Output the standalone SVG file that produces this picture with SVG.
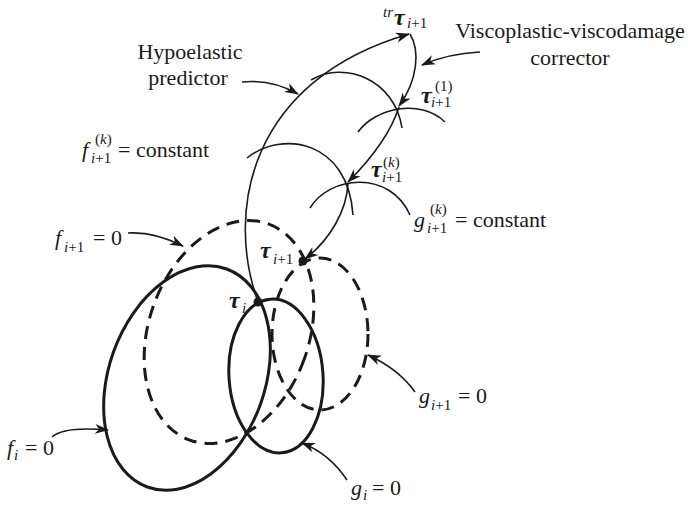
<svg xmlns="http://www.w3.org/2000/svg" width="688" height="507" viewBox="0 0 688 507">
<style>
.bg{fill:#fff}
.thin{fill:none;stroke:#1a1a1a;stroke-width:1.6}
.thick{fill:none;stroke:#1a1a1a;stroke-width:3}
.dash{fill:none;stroke:#1a1a1a;stroke-width:3;stroke-dasharray:13 8}
.lbl{fill:#1a1a1a;font-size:22px}
.it{font-style:italic}
.tau{font-style:italic;font-weight:bold;font-size:24px}
.sub{font-size:15px}
.dot{fill:#1a1a1a}
</style>
<defs>
<marker id="ah" markerUnits="userSpaceOnUse" markerWidth="14" markerHeight="10" refX="13" refY="5" orient="auto" overflow="visible">
<path d="M0,0 L14,5 L0,10 L4,5 z" fill="#1a1a1a"/>
</marker>
</defs>
<rect class="bg" width="688" height="507"/>
<g id="surfaces">
<ellipse id="f_i" class="thick" cx="187" cy="378" rx="78" ry="116" transform="rotate(20 187 378)"/>
<ellipse id="f_i1" class="dash" cx="229" cy="332" rx="80" ry="115" transform="rotate(20 229 332)"/>
<ellipse id="g_i" class="thick" cx="276" cy="376" rx="47" ry="77" transform="rotate(-4 276 376)"/>
<ellipse id="g_i1" class="dash" cx="320" cy="334" rx="48" ry="76"/>
</g>
<g id="level-arcs">
<path class="thin" d="M311,80 C345,60 395,80 402,128"/>
<path class="thin" d="M358,132 C375,108 420,98 445,122"/>
<path class="thin" d="M247,158 C282,130 348,140 353,215"/>
<path class="thin" d="M310,208 C330,175 390,170 410,215"/>
</g>
<g id="connectors">
<path class="thin" d="M258,302 C225,210 250,80 409,34" marker-end="url(#ah)"/>
<path class="thin" d="M410,34 C420,50 418,80 399,106" marker-end="url(#ah)"/>
<path class="thin" d="M399,107 C390,135 370,160 348,182" marker-end="url(#ah)"/>
<path class="thin" d="M348,183 C347,210 330,240 305,259" marker-end="url(#ah)"/>
<path class="thin" d="M242,82 C262,80 282,85 298,94" marker-end="url(#ah)"/>
<path class="thin" d="M480,52 C460,53 440,57 422,65" marker-end="url(#ah)"/>
<path class="thin" d="M128,233 C145,232 165,237 183,246" marker-end="url(#ah)"/>
<path class="thin" d="M52,437 C62,428 85,428 108,430" marker-end="url(#ah)"/>
<path class="thin" d="M347,480 C335,462 320,450 302,443" marker-end="url(#ah)"/>
<path class="thin" d="M415,392 C405,378 390,365 368,355" marker-end="url(#ah)"/>
</g>
<g id="points">
<circle id="tau_i" class="dot" cx="258" cy="302" r="4.5"/>
<circle id="tau_i1" class="dot" cx="303" cy="261" r="4.5"/>
</g>
<g id="labels" font-family="'Liberation Serif', 'Times New Roman', serif">
<text class="lbl" x="190" y="59" text-anchor="middle">Hypoelastic</text>
<text class="lbl" x="188" y="85" text-anchor="middle">predictor</text>
<text class="lbl" x="570" y="38" text-anchor="middle">Viscoplastic-viscodamage</text>
<text class="lbl" x="570" y="65" text-anchor="middle">corrector</text>

<text class="lbl sub it" x="383" y="17">tr</text>
<text class="lbl tau" x="394" y="25">τ</text>
<text class="lbl sub" x="407" y="28"><tspan class="it">i</tspan>+1</text>

<text class="lbl tau" x="421" y="103">τ</text>
<text class="lbl sub" x="435" y="91">(1)</text>
<text class="lbl sub" x="431" y="107"><tspan class="it">i</tspan>+1</text>

<text class="lbl tau" x="371" y="177">τ</text>
<text class="lbl sub" x="383" y="167">(<tspan class="it">k</tspan>)</text>
<text class="lbl sub" x="382" y="182"><tspan class="it">i</tspan>+1</text>

<text class="lbl tau" x="260" y="258">τ</text>
<text class="lbl sub" x="273" y="264"><tspan class="it">i</tspan>+1</text>

<text class="lbl tau" x="229" y="308">τ</text>
<text class="lbl sub it" x="242" y="313">i</text>

<text class="lbl it" x="82" y="157">f</text>
<text class="lbl sub" x="95" y="144">(<tspan class="it">k</tspan>)</text>
<text class="lbl sub" x="91" y="163"><tspan class="it">i</tspan>+1</text>
<text class="lbl" x="118" y="157">= constant</text>

<text class="lbl it" x="414" y="227">g</text>
<text class="lbl sub" x="430" y="214">(<tspan class="it">k</tspan>)</text>
<text class="lbl sub" x="427" y="233"><tspan class="it">i</tspan>+1</text>
<text class="lbl" x="455" y="227">= constant</text>

<text class="lbl it" x="55" y="245">f</text>
<text class="lbl sub" x="64" y="252"><tspan class="it">i</tspan>+1</text>
<text class="lbl" x="93" y="245">= 0</text>

<text class="lbl it" x="7" y="455">f</text>
<text class="lbl sub it" x="14" y="460">i</text>
<text class="lbl" x="25" y="455">= 0</text>

<text class="lbl it" x="351" y="495">g</text>
<text class="lbl sub it" x="363" y="500">i</text>
<text class="lbl" x="372" y="495">= 0</text>

<text class="lbl it" x="419" y="403">g</text>
<text class="lbl sub" x="431" y="410"><tspan class="it">i</tspan>+1</text>
<text class="lbl" x="458" y="403">= 0</text>
</g>
</svg>
